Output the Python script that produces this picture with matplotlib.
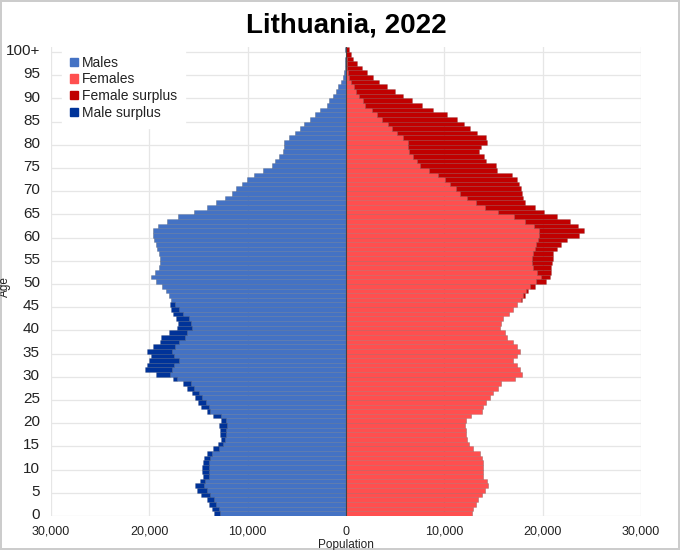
import numpy as np
import matplotlib
matplotlib.use("Agg")
import matplotlib.pyplot as plt
from matplotlib.patches import Patch

plt.rcParams['font.family'] = ['Liberation Sans', 'DejaVu Sans']

# population by single year of age, 0 .. 100+
ages = list(range(0, 101))
males = [13400, 13650, 13900, 14100, 14780, 15200, 15350, 14800, 14580, 14680,
         14680, 14500, 14440, 14100, 13500, 13000, 12750, 12800, 12800, 12880,
         12740, 13500, 14100, 14780, 15000, 15350, 15700, 16130, 16600, 17630,
         19330, 20440, 20270, 20000, 19860, 20200, 19660, 18920, 18850, 17970,
         17220, 17050, 17290, 17630, 17830, 17900, 17800, 18000, 18300, 18700,
         19300, 19800, 19420, 18980, 18920, 18920, 18980, 19190, 19320, 19530,
         19660, 19660, 19090, 18170, 17050, 15460, 14100, 13220, 12310, 11630,
         11190, 10610, 10100, 9360, 8410, 7560, 7220, 6780, 6440, 6310,
         6310, 5760, 5190, 4680, 4270, 3660, 3150, 2640, 1970, 1700,
         1290, 1020, 780, 540, 340, 200, 150, 100, 70, 40,
         50]
females = [12780, 12950, 13220, 13460, 13800, 14140, 14470, 14300, 13960, 13960,
           13960, 13900, 13870, 13630, 12950, 12540, 12270, 12200, 12170, 12140,
           12200, 12680, 13800, 13900, 14240, 14650, 14920, 15500, 15740, 17200,
           17880, 17710, 17440, 17030, 17440, 17710, 17370, 16970, 16350, 16180,
           15680, 15740, 16010, 16620, 16970, 17370, 17880, 18220, 18560, 19240,
           20360, 20770, 20810, 20810, 20920, 21020, 21090, 21420, 21830, 22440,
           23730, 24200, 23630, 22780, 21420, 20140, 19220, 18200, 18030, 17870,
           17760, 17630, 17420, 16850, 15320, 15260, 14240, 14030, 13560, 13700,
           14310, 14240, 13360, 12610, 12000, 11250, 10240, 8880, 7700, 6680,
           5830, 4980, 4140, 3390, 2710, 2100, 1590, 1080, 750, 470,
           340]
age_labels = [str(a) for a in range(0, 100, 5)] + ["100+"]

m = np.array(males)
f = np.array(females)
common = np.minimum(m, f)
m_surplus = np.clip(m - f, 0, None)
f_surplus = np.clip(f - m, 0, None)

c_m = "#4472c4"
c_f = "#ff4f4f"
c_fs = "#c00000"
c_ms = "#003399"
edge = (0, 0, 0, 0.18)

fig = plt.figure(figsize=(6.8, 5.5), dpi=100)
ax = fig.add_axes([0.075, 0.062, 0.8676, 0.852])

ax.barh(ages, -common, height=1.0, color=c_m, edgecolor=edge, linewidth=0.4, zorder=3)
ax.barh(ages, -m_surplus, left=-common, height=1.0, color=c_ms, edgecolor=edge, linewidth=0.4, zorder=3)
ax.barh(ages, common, height=1.0, color=c_f, edgecolor=edge, linewidth=0.4, zorder=3)
ax.barh(ages, f_surplus, left=common, height=1.0, color=c_fs, edgecolor=edge, linewidth=0.4, zorder=3)
ax.axvline(0, color="#444444", lw=0.8, zorder=4)

ax.set_xlim(-30000, 30000)
ax.set_ylim(-0.5, 100.5)

xt = np.arange(-30000, 30001, 10000)
ax.set_xticks(xt)
ax.set_xticklabels(["{:,}".format(abs(v)) for v in xt], fontsize=9, color="#222222")
ax.set_yticks(list(range(0, 101, 5)))
ax.set_yticklabels(age_labels, fontsize=11, color="#222222")
ax.tick_params(axis="y", length=0, pad=8)
ax.tick_params(axis="x", length=0, pad=7)

# grid at bar boundaries every 5 years
for g in np.arange(-0.5, 100, 5):
    ax.axhline(g, color="#e6e6e6", lw=0.9, zorder=1)
for v in xt:
    ax.axvline(v, color="#e6e6e6", lw=0.9, zorder=1)
for s in ax.spines.values():
    s.set_visible(False)

ax.set_xlabel("Population", fontsize=8.5, color="#222222", labelpad=1)
ax.set_ylabel("Age", fontsize=8.5, color="#222222")
ax.yaxis.set_label_coords(-0.068, 0.49)
ax.set_title("Lithuania, 2022", fontsize=20, fontweight="bold", pad=11)

handles = [Patch(color=c_m, label="Males"), Patch(color=c_f, label="Females"),
           Patch(color=c_fs, label="Female surplus"), Patch(color=c_ms, label="Male surplus")]
leg = ax.legend(handles=handles, loc="upper left", bbox_to_anchor=(0.018, 1.0),
                fontsize=10, frameon=True, fancybox=False, framealpha=1,
                edgecolor="white", handlelength=0.55, handleheight=0.55,
                handletextpad=0.3, labelspacing=0.2, borderaxespad=0, borderpad=0.6)
leg.set_zorder(5)
for t in leg.get_texts():
    t.set_color("#222222")

fig.patch.set_edgecolor("#cccccc")
fig.patch.set_linewidth(1.5)
fig.savefig("out.png", dpi=100, edgecolor=fig.get_edgecolor())
